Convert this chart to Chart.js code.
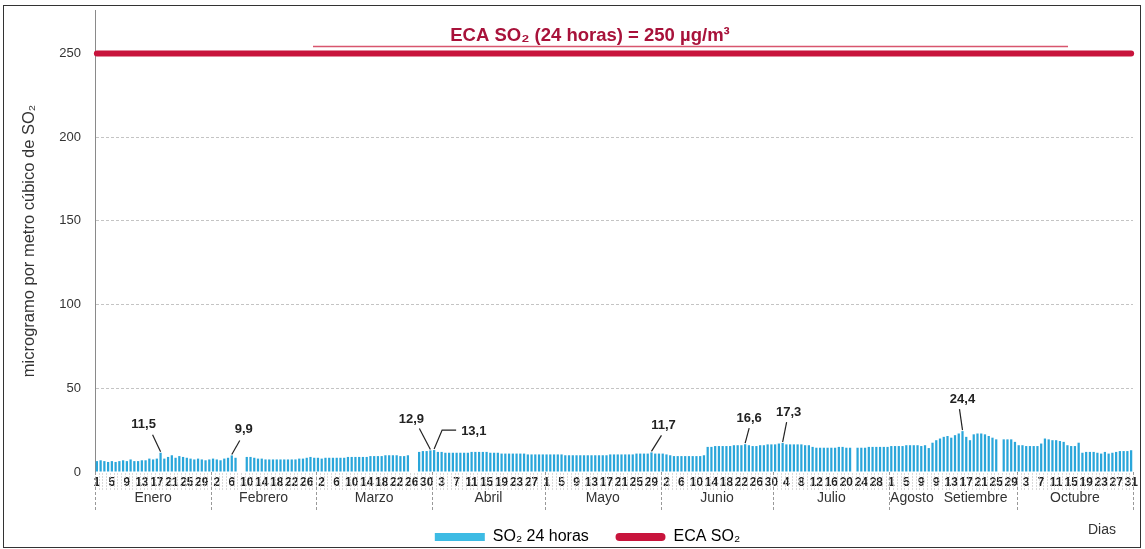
<!DOCTYPE html>
<html>
<head>
<meta charset="utf-8">
<script src="https://cdn.jsdelivr.net/npm/chart.js@4.4.1/dist/chart.umd.min.js"></script>
<style>
  html, body { margin: 0; padding: 0; background: #fff; }
  #wrap { position: relative; width: 1145px; height: 549px; }
  #frame { position: absolute; left: 3px; top: 5px; width: 1136px; height: 541px; border: 1.5px solid #333; pointer-events: none; }
</style>
</head>
<body>
<div id="wrap">
  <canvas id="so2Chart" width="1145" height="549"></canvas>
  <div id="frame"></div>
</div>
<script>
// meses y rango de días con datos
const monthNames = ['Enero', 'Febrero', 'Marzo', 'Abril', 'Mayo', 'Junio', 'Julio', 'Agosto', 'Setiembre', 'Octubre'];
const monthFirstDay = [1, 1, 1, 1, 1, 1, 1, 1, 9, 1];
const monthLastDay = [31, 28, 31, 30, 31, 30, 31, 12, 30, 31];

// SO2 promedio 24 horas (µg/m3)
const so2Enero = [6.5, 7, 6.5, 6, 6.5, 6, 6.5, 7, 6.5, 7.5, 6.5, 6.5, 7, 7, 8, 7.5, 8, 11.5, 8, 9, 10, 8.5, 9.5, 9, 8.5, 8, 7.5, 8, 7.5, 7, 7.5];
const so2Febrero = [8, 7.5, 7, 8, 8.5, 9.9, 8.5, null, null, 9, 9, 8.5, 8, 8, 7.5, 7.5, 7.5, 7.5, 7.5, 7.5, 7.5, 7.5, 7.5, 8, 8, 8.5, 9, 8.5];
const so2Marzo = [8.5, 8, 8.5, 8.5, 8.5, 8.5, 8.5, 8.5, 9, 9, 9, 9, 9, 9, 9.5, 9.5, 9.5, 9.5, 10, 10, 10, 10, 9.5, 9.5, 10, null, null, 12, 12.5, 12.5, 12.9];
const so2Abril = [13.1, 12, 12, 11.5, 11.5, 11.5, 11.5, 11.5, 11.5, 11.5, 12, 12, 12, 12, 12, 11.5, 11.5, 11.5, 11, 11, 11, 11, 11, 11, 11, 10.5, 10.5, 10.5, 10.5, 10.5];
const so2Mayo = [10.5, 10.5, 10.5, 10.5, 10.5, 10, 10, 10, 10, 10, 10, 10, 10, 10, 10, 10, 10, 10.5, 10.5, 10.5, 10.5, 10.5, 10.5, 10.5, 11, 11, 11, 11, 11.7, 11, 11];
const so2Junio = [11, 10.5, 10, 9.5, 9.5, 9.5, 9.5, 9.5, 9.5, 9.5, 9.5, 10, 15, 15, 15.5, 15.5, 15.5, 15.5, 15.5, 16, 16, 16, 16.6, 16, 15.5, 15.5, 16, 16, 16.5, 16.5];
const so2Julio = [16.5, 17, 17.3, 16.5, 16.5, 16.5, 16.5, 16.5, 16, 16, 15, 14.5, 14.5, 14.5, 14.5, 14.5, 14.5, 15, 15, 14.5, 14.5, null, 14.5, 14.5, 14.5, 15, 15, 15, 15, 15, 15];
const so2Agosto = [15.5, 15.5, 15.5, 15.5, 16, 16, 16, 16, 15.5, 16, 14.3, 17.5];
const so2Setiembre = [19, 20, 21, 21.5, 20.5, 22, 23, 24.4, 21, 19, 22.5, 23, 23, 22.5, 21.5, 20.5, 19.5, null, 19.5, 19.5, 19.5, 18];
const so2Octubre = [16, 16, 15.5, 15.5, 15.5, 15.5, 17, 20, 19.5, 19, 19, 18.5, 18, 16, 15.5, 15.5, 17.5, 11.5, 12, 12, 12, 11.5, 11, 12, 11, 11.5, 12, 12.5, 12.5, 12.5, 13];
const monthValues = [so2Enero, so2Febrero, so2Marzo, so2Abril, so2Mayo, so2Junio, so2Julio, so2Agosto, so2Setiembre, so2Octubre];

const ecaLimit = 250;
const yTicks = [0, 50, 100, 150, 200, 250];

// días señalados con su valor
const peakKeys = ['Enero-18', 'Febrero-6', 'Marzo-31', 'Abril-1', 'Mayo-29', 'Junio-23', 'Julio-3', 'Setiembre-16'];

// categorías: una por día
const keys = [];
const days = [];
const values = [];
const monthStart = [];
monthNames.forEach((m, i) => {
  monthStart.push(keys.length);
  for (let d = monthFirstDay[i]; d <= monthLastDay[i]; d++) {
    keys.push(m + '-' + d);
    days.push(d);
    values.push(monthValues[i][d - monthFirstDay[i]]);
  }
});
monthStart.push(keys.length);

const barColor = '#2aa6da';
const ecaColor = '#c8143c';
const font = '"Liberation Sans", Arial, sans-serif';

// leader: [dx, dy, textDx, textDy, gancho]
const leaders = [
  [-8, -18, -9, -10, 0],
  [8, -15, 4, -11, 0],
  [-11, -22, -8, -9, 0],
  [8, -20, 0, 0, 14],
  [10, -17, 2, -10, 0],
  [4, -16, 0, -10, 0],
  [4, -21, 2, -10, 0],
  [-3, -22, 3, -10, 0]
];

const extras = {
  id: 'extras',
  afterDatasetsDraw(chart) {
    const { ctx } = chart;
    const meta = chart.getDatasetMeta(0);
    ctx.save();

    // etiquetas de picos
    ctx.strokeStyle = '#222';
    ctx.lineWidth = 1.2;
    ctx.fillStyle = '#222';
    ctx.font = 'bold 13px ' + font;
    ctx.textBaseline = 'middle';
    peakKeys.forEach((k, i) => {
      const idx = keys.indexOf(k);
      const bar = meta.data[idx];
      const [dx, dy, tx, ty, hook] = leaders[i];
      const ex = bar.x + dx, ey = bar.y + dy;
      ctx.beginPath();
      ctx.moveTo(bar.x, bar.y - 1);
      ctx.lineTo(ex, ey);
      if (hook) ctx.lineTo(ex + hook, ey);
      ctx.stroke();
      const txt = values[idx].toFixed(1).replace('.', ',');
      if (hook) {
        ctx.textAlign = 'left';
        ctx.fillText(txt, ex + hook + 5, ey + 1);
      } else {
        ctx.textAlign = 'center';
        ctx.fillText(txt, ex + tx, ey + ty);
      }
    });

    // texto del ECA
    ctx.fillStyle = '#a8123a';
    ctx.font = 'bold 18.5px ' + font;
    ctx.textAlign = 'center';
    ctx.fillText('ECA SO\u2082 (24 horas) = 250 \u00b5g/m\u00b3', 590, 36);
    ctx.strokeStyle = '#d8566e';
    ctx.lineWidth = 1.5;
    ctx.beginPath();
    ctx.moveTo(313, 46.5);
    ctx.lineTo(1068, 46.5);
    ctx.stroke();
    ctx.restore();
  },
  afterDraw(chart) {
    const { ctx, chartArea, scales: { x } } = chart;
    const step = x.getPixelForValue(1) - x.getPixelForValue(0);
    ctx.save();
    // separadores de días
    ctx.strokeStyle = '#cfcfcf';
    ctx.lineWidth = 0.8;
    ctx.setLineDash([2, 1]);
    for (let i = 0; i <= keys.length; i++) {
      const px = Math.round(x.getPixelForValue(i) - step / 2) + 0.5;
      ctx.beginPath();
      ctx.moveTo(px, chartArea.bottom + 1);
      ctx.lineTo(px, chartArea.bottom + 18);
      ctx.stroke();
    }
    // divisiones de meses
    ctx.strokeStyle = '#999';
    ctx.lineWidth = 1;
    ctx.setLineDash([3, 2]);
    monthStart.forEach((s, i) => {
      if (monthNames[i] === 'Setiembre') return;
      const px = Math.round(x.getPixelForValue(s) - step / 2) + 0.5;
      ctx.beginPath();
      ctx.moveTo(px, chartArea.bottom);
      ctx.lineTo(px, chartArea.bottom + 38);
      ctx.stroke();
    });
    ctx.setLineDash([]);
    // nombres de meses
    ctx.fillStyle = '#333';
    ctx.font = '14px ' + font;
    ctx.textAlign = 'center';
    ctx.textBaseline = 'middle';
    monthNames.forEach((m, i) => {
      const cx = (x.getPixelForValue(monthStart[i]) + x.getPixelForValue(monthStart[i + 1] - 1)) / 2;
      ctx.fillText(m, cx, chartArea.bottom + 26);
    });
    ctx.textAlign = 'left';
    ctx.fillText('Dias', 1088, 530);
    ctx.restore();
  }
};

new Chart(document.getElementById('so2Chart'), {
  data: {
    labels: keys,
    datasets: [{
      type: 'bar',
      label: 'SO\u2082 24 horas',
      data: values,
      backgroundColor: barColor,
      barPercentage: 0.6,
      categoryPercentage: 1,
      order: 2
    }, {
      type: 'line',
      label: 'ECA SO\u2082',
      data: [{ x: keys[0], y: ecaLimit }, { x: keys[keys.length - 1], y: ecaLimit }],
      borderColor: ecaColor,
      backgroundColor: ecaColor,
      borderWidth: 6,
      borderCapStyle: 'round',
      pointRadius: 0,
      order: 1
    }]
  },
  options: {
    responsive: false,
    animation: false,
    layout: { padding: { top: 10, right: 12, left: 42, bottom: -6 } },
    plugins: {
      tooltip: { enabled: false },
      legend: {
        position: 'bottom',
        labels: {
          color: '#222',
          font: { size: 16, family: font },
          boxWidth: 50,
          boxHeight: 8,
          padding: 0,
          useBorderRadius: true,
          generateLabels: chart => chart.data.datasets.map((ds, i) => ({
            text: ds.label + (i === 0 ? '      ' : ''),
            fillStyle: i === 0 ? '#3dbbe4' : ecaColor,
            strokeStyle: i === 0 ? '#3dbbe4' : ecaColor,
            lineWidth: 0,
            hidden: false,
            datasetIndex: i,
            borderRadius: i === 0 ? 0 : 4
          }))
        }
      }
    },
    scales: {
      x: {
        grid: { display: false, drawTicks: false },
        border: { display: false },
        ticks: {
          autoSkip: false,
          maxRotation: 0,
          minRotation: 0,
          padding: 3,
          color: '#222',
          font: { size: 12, weight: 'bold', family: font },
          callback: (v, i) => (i % 4 === 0 ? days[i] : '')
        },
        afterFit: s => { s.height = 57; }
      },
      y: {
        min: 0,
        max: 276,
        afterBuildTicks: s => { s.ticks = yTicks.map(v => ({ value: v })); },
        grid: {
          drawTicks: false,
          color: c => (c.tick.value > 0 && c.tick.value < 250 ? '#c4c4c4' : 'rgba(0,0,0,0)')
        },
        border: { display: true, color: '#8a8a8a', width: 1, dash: [3, 2] },
        ticks: {
          padding: 14,
          color: '#333',
          font: { size: 13, family: font }
        },
        title: {
          display: true,
          text: 'microgramo por metro c\u00fabico de SO\u2082',
          color: '#333',
          font: { size: 16.5, family: font },
          padding: { top: -22, bottom: 0 }
        },
        afterFit: s => { s.width = 53; s.paddingTop = 0; s.paddingBottom = 0; }
      }
    }
  },
  plugins: [extras]
});
</script>
</body>
</html>
